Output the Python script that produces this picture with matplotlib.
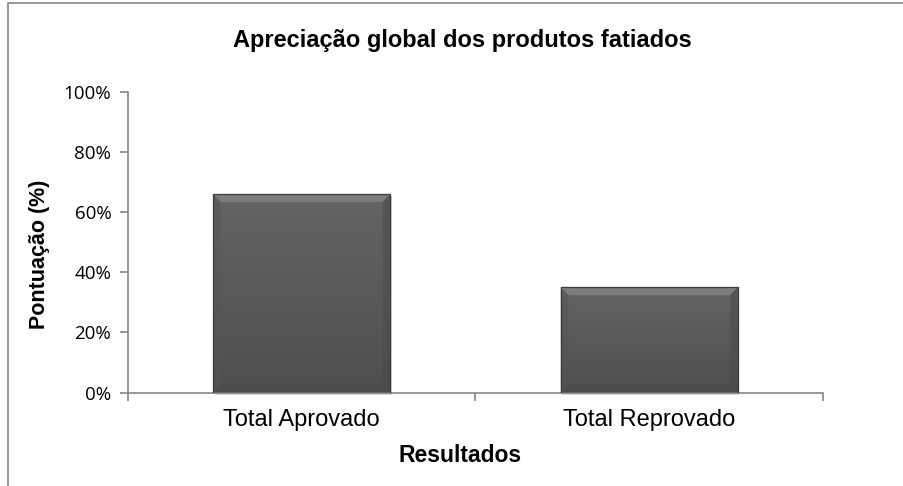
import numpy as np
import matplotlib.pyplot as plt
from matplotlib.patches import Rectangle, Polygon
from matplotlib.colors import LinearSegmentedColormap
from matplotlib.ticker import FixedLocator, FuncFormatter

# dados
categorias = ['Total Aprovado', 'Total Reprovado']
pontuacao = [66, 35]

plt.rcParams['font.family'] = ['Liberation Sans', 'DejaVu Sans']

fig = plt.figure(figsize=(9.04, 4.86), dpi=100)
fig.patch.set_facecolor('white')

# moldura do gráfico
fig.patches.append(Rectangle((8 / 904, -0.1), 1.2, 1 - 3 / 486 + 0.1,
                             transform=fig.transFigure, fill=False,
                             edgecolor='#868686', linewidth=1.2))

ax = fig.add_axes([128 / 904, 1 - 392.5 / 486, (823 - 128) / 904, (392.5 - 92) / 486])

x = np.arange(len(categorias))
largura = 0.51
bx, by = 0.022, 2.6   # largura do bisel (dados)
grad = np.linspace(0, 1, 100).reshape(-1, 1)
cmap = LinearSegmentedColormap.from_list('g', ['#4f4f4f', '#646464'])
for xi, v in zip(x, pontuacao):
    x0, x1 = xi - largura / 2, xi + largura / 2
    # sombra
    ax.add_patch(Rectangle((x0 + 0.004, -0.9), largura, v + 0.3,
                           facecolor='#a0a0a0', edgecolor='none', alpha=0.45,
                           zorder=1, clip_on=False))
    barra = ax.bar(xi, v, width=largura, color='#585858', edgecolor='none', zorder=2)[0]
    im = ax.imshow(grad, extent=(x0, x1, 0, v), cmap=cmap,
                   origin='lower', aspect='auto', zorder=3)
    im.set_clip_path(barra)
    # bisel
    ax.add_patch(Polygon([(x0, v), (x1, v), (x1 - bx, v - by), (x0 + bx, v - by)],
                         facecolor='#7c7c7c', edgecolor='none', zorder=4))
    ax.add_patch(Polygon([(x0, 0), (x0, v), (x0 + bx, v - by), (x0 + bx, by)],
                         facecolor='#555555', edgecolor='none', alpha=0.5, zorder=4))
    ax.add_patch(Polygon([(x1, 0), (x1, v), (x1 - bx, v - by), (x1 - bx, by)],
                         facecolor='#4a4a4a', edgecolor='none', alpha=0.5, zorder=4))
    ax.add_patch(Polygon([(x0, 0), (x1, 0), (x1 - bx, by), (x0 + bx, by)],
                         facecolor='#474747', edgecolor='none', alpha=0.45, zorder=4))
    ax.add_patch(Rectangle((x0, 0), largura, v, fill=False,
                           edgecolor='#3a3a3a', linewidth=0.9, zorder=5))

ax.set_xlim(-0.5, 1.5)
ax.set_ylim(0, 100)

ax.xaxis.set_major_locator(FixedLocator([-0.5, 0.5, 1.5]))
ax.xaxis.set_major_formatter(FuncFormatter(lambda v, p: ''))
ax.xaxis.set_minor_locator(FixedLocator(x))
ax.xaxis.set_minor_formatter(FuncFormatter(lambda v, p: categorias[int(round(v))]))
ax.tick_params(axis='x', which='minor', length=0, labelsize=17, pad=12)
ax.tick_params(axis='x', which='major', length=6, color='#868686', width=1.2)

ax.set_yticks(np.arange(0, 101, 20))
ax.yaxis.set_major_formatter(FuncFormatter(lambda v, p: f'{int(v)}%'))
ax.tick_params(axis='y', length=6, color='#868686', width=1.2, labelsize=13.5, pad=6)
for lbl in ax.get_yticklabels():
    lbl.set_fontfamily(['Open Sans', 'DejaVu Sans'])

for s in ['top', 'right']:
    ax.spines[s].set_visible(False)
for s in ['left', 'bottom']:
    ax.spines[s].set_color('#868686')
    ax.spines[s].set_linewidth(1.2)

ax.set_xlabel('Resultados', fontsize=16.5, fontweight='bold')
ax.xaxis.set_label_coords((460 - 128) / 695, -(455 - 392.5) / 300.5)
ax.xaxis.label.set_va('center')
ax.set_ylabel('Pontuação (%)', fontsize=15.5, fontweight='bold')
ax.yaxis.set_label_coords((40 - 128) / 695, (392.5 - 254) / 300.5)
ax.yaxis.label.set_va('center')
fig.text(462 / 904, 1 - 40 / 486, 'Apreciação global dos produtos fatiados',
         ha='center', va='center', fontsize=17, fontweight='bold')

fig.savefig('out.png', dpi=100, facecolor='white')
